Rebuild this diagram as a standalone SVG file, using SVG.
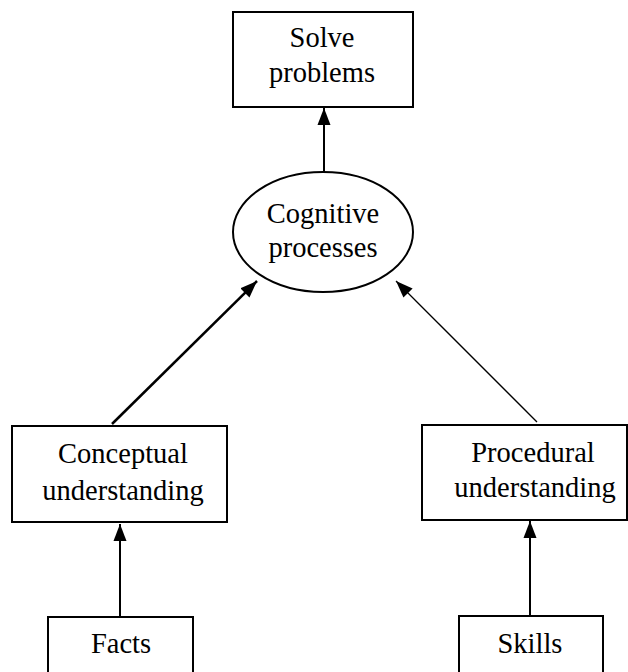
<svg xmlns="http://www.w3.org/2000/svg" width="628" height="672" viewBox="0 0 628 672">
<style>
.box{fill:#fff;stroke:#000;stroke-width:2}
.t{font-family:'Liberation Serif','Times New Roman','DejaVu Serif',serif;font-size:28.5px;fill:#000;text-anchor:middle}
.c{stroke:#000;fill:none}
</style>
<defs>
<marker id="ah" markerUnits="userSpaceOnUse" markerWidth="18" markerHeight="16" viewBox="0 0 18 16" refX="17" refY="8" orient="auto">
<path d="M0,1.5 L17,8 L0,14.5 Z" fill="#000"/>
</marker>
</defs>
<rect width="628" height="672" fill="#fff"/>
<g id="connectors">
<line class="c" x1="324" y1="172" x2="324" y2="108" stroke-width="2" marker-end="url(#ah)"/>
<line class="c" x1="112" y1="424" x2="257" y2="281" stroke-width="2.5" marker-end="url(#ah)"/>
<line class="c" x1="537" y1="422" x2="396" y2="281" stroke-width="1.3" marker-end="url(#ah)"/>
<line class="c" x1="120" y1="617" x2="120" y2="524" stroke-width="2" marker-end="url(#ah)"/>
<line class="c" x1="530" y1="616" x2="530" y2="521" stroke-width="2" marker-end="url(#ah)"/>
</g>
<g id="solve">
<rect class="box" x="233" y="12" width="180" height="95"/>
<text class="t" x="322" y="47" font-family="Liberation Serif, serif">Solve</text>
<text class="t" x="322" y="82" font-family="Liberation Serif, serif">problems</text>
</g>
<g id="cognitive">
<ellipse class="box" cx="323" cy="232" rx="90" ry="60"/>
<text class="t" x="323" y="223">Cognitive</text>
<text class="t" x="323" y="257">processes</text>
</g>
<g id="conceptual">
<rect class="box" x="12" y="426" width="215" height="96"/>
<text class="t" x="123" y="463">Conceptual</text>
<text class="t" x="123" y="500">understanding</text>
</g>
<g id="procedural">
<rect class="box" x="422" y="425" width="205" height="95"/>
<text class="t" x="533" y="462">Procedural</text>
<text class="t" x="535" y="497">understanding</text>
</g>
<g id="facts">
<rect class="box" x="48" y="617" width="145" height="70"/>
<text class="t" x="121" y="653">Facts</text>
</g>
<g id="skills">
<rect class="box" x="459" y="616" width="144" height="70"/>
<text class="t" x="530" y="653">Skills</text>
</g>
</svg>
